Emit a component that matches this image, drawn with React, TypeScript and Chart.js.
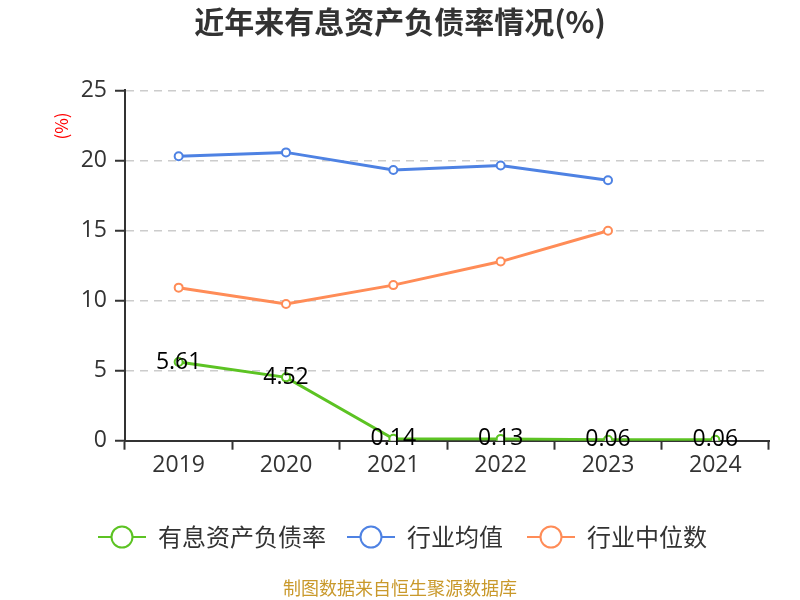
import React, { useEffect, useRef } from "react";
import { Chart, registerables } from "chart.js";

Chart.register(...registerables);

const categories = ["2019", "2020", "2021", "2022", "2023", "2024"];
const debtRatio = [5.61, 4.52, 0.14, 0.13, 0.06, 0.06];
const industryAvg = [20.3, 20.57, 19.32, 19.63, 18.58, null];
const industryMedian = [10.92, 9.75, 11.1, 12.78, 14.98, null];
const yTicks = [0, 5, 10, 15, 20, 25];

const seriesNames = ["有息资产负债率", "行业均值", "行业中位数"];
const seriesColors = ["#5cc323", "#4e82e3", "#ff8c57"];

const FONT = "'Noto Sans CJK SC', 'Noto Sans', sans-serif";
const NUMFONT = "'Open Sans', 'Noto Sans CJK SC', sans-serif";

const overlayPlugin = {
  id: "overlay",
  afterDatasetsDraw(chart: any) {
    const ctx = chart.ctx;
    const meta = chart.getDatasetMeta(0);
    ctx.save();
    ctx.font = `23px ${NUMFONT}`;
    ctx.fillStyle = "#000";
    ctx.textAlign = "center";
    ctx.textBaseline = "middle";
    meta.data.forEach((pt: any, i: number) => {
      const v = debtRatio[i];
      if (v == null) return;
      ctx.fillText(v.toFixed(2), pt.x, pt.y);
    });
    ctx.restore();
  },
  afterDraw(chart: any) {
    const ctx = chart.ctx;
    ctx.save();
    // title
    ctx.font = `bold 30px ${FONT}`;
    ctx.fillStyle = "#333";
    ctx.textAlign = "center";
    ctx.textBaseline = "middle";
    ctx.fillText("近年来有息资产负债率情况(%)", 400, 22);
    // y unit label
    ctx.save();
    ctx.translate(62, 126);
    ctx.rotate(-Math.PI / 2);
    ctx.font = `17px ${FONT}`;
    ctx.fillStyle = "#ff0000";
    ctx.fillText("(%)", 0, 0);
    ctx.restore();
    // legend
    const xs = [98, 347, 527];
    const ly = 537;
    ctx.font = `24px ${FONT}`;
    ctx.textAlign = "left";
    seriesNames.forEach((name, i) => {
      const x0 = xs[i];
      ctx.strokeStyle = seriesColors[i];
      ctx.lineWidth = 2;
      ctx.beginPath();
      ctx.moveTo(x0, ly);
      ctx.lineTo(x0 + 48, ly);
      ctx.stroke();
      ctx.beginPath();
      ctx.arc(x0 + 24, ly, 10.5, 0, Math.PI * 2);
      ctx.fillStyle = "#fff";
      ctx.fill();
      ctx.stroke();
      ctx.fillStyle = "#333";
      ctx.fillText(name, x0 + 60, ly);
    });
    // footer
    ctx.font = `18px ${FONT}`;
    ctx.fillStyle = "#c9992b";
    ctx.textAlign = "center";
    ctx.fillText("制图数据来自恒生聚源数据库", 400, 588);
    ctx.restore();
  },
};

export default function App() {
  const ref = useRef<HTMLCanvasElement>(null);
  useEffect(() => {
    if (!ref.current) return;
    const mk = (label: string, data: any[], color: string) => ({
      label,
      data,
      borderColor: color,
      backgroundColor: color,
      borderWidth: 3,
      pointRadius: 4,
      pointHoverRadius: 4,
      pointBorderWidth: 2,
      pointBackgroundColor: "#fff",
      pointBorderColor: color,
      tension: 0,
      spanGaps: false,
    });
    const chart = new Chart(ref.current, {
      type: "line",
      data: {
        labels: categories,
        datasets: [
          mk(seriesNames[0], debtRatio, seriesColors[0]),
          mk(seriesNames[1], industryAvg, seriesColors[1]),
          mk(seriesNames[2], industryMedian, seriesColors[2]),
        ],
      },
      options: {
        responsive: false,
        animation: false,
        devicePixelRatio: 1,
        layout: { padding: { top: 90.3, right: 31, bottom: 119.3, left: 0 } },
        plugins: {
          legend: { display: false },
          title: { display: false },
          tooltip: { enabled: false },
        },
        scales: {
          x: {
            offset: true,
            grid: {
              offset: true,
              drawOnChartArea: false,
              drawTicks: true,
              tickLength: 9,
              tickColor: "#333",
              tickWidth: 2,
            },
            border: { display: true, color: "#333", width: 2 },
            ticks: {
              color: "#333",
              font: { size: 23, family: NUMFONT },
              padding: 2,
              maxRotation: 0,
            },
            afterFit: (s: any) => {
              s.height = 40;
            },
          },
          y: {
            min: 0,
            max: 25,
            afterBuildTicks: (s: any) => {
              s.ticks = yTicks.map((v) => ({ value: v }));
            },
            grid: {
              color: "#cccccc",
              lineWidth: 1.5,
              drawTicks: true,
              tickLength: 10,
              tickColor: "#333",
              tickWidth: 2,
              tickBorderDash: [],
            },
            border: { display: true, color: "#333", width: 2, dash: [8, 6] },
            ticks: {
              color: "#333",
              font: { size: 23, family: NUMFONT },
              padding: 8,
            },
            afterFit: (s: any) => {
              s.width = 125;
            },
          },
        },
      },
      plugins: [overlayPlugin],
    });
    return () => chart.destroy();
  }, []);
  return (
    <div style={{ position: "absolute", left: 0, top: 0, width: 800, height: 600, background: "#fff" }}>
      <canvas ref={ref} width={800} height={600} style={{ display: "block", width: 800, height: 600 }} />
    </div>
  );
}
